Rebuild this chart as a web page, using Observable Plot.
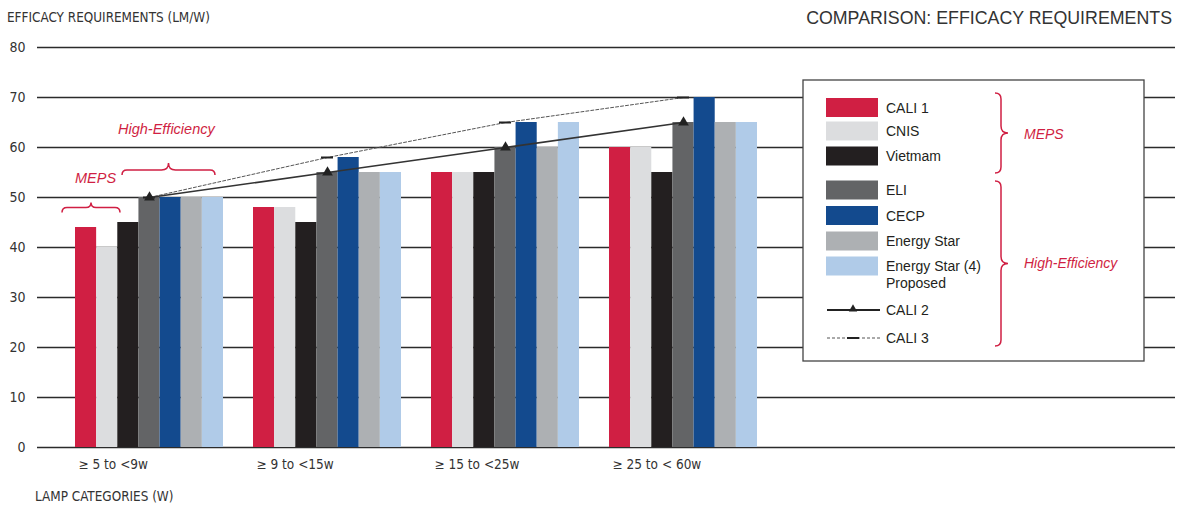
<!DOCTYPE html>
<html><head><meta charset="utf-8">
<script src="https://cdn.jsdelivr.net/npm/d3@7"></script>
<script src="https://cdn.jsdelivr.net/npm/@observablehq/plot@0.6"></script>
<style>body{margin:0;background:#fff} svg{display:block}</style>
</head><body><div id="chart"></div>
<script>
const categories = ["≥ 5 to <9w", "≥ 9 to <15w", "≥ 15 to <25w", "≥ 25 to < 60w"];
const seriesNames = ["CALI 1", "CNIS", "Vietmam", "ELI", "CECP", "Energy Star", "Energy Star (4)\nProposed"];
const cali1 = [44, 48, 55, 60];
const cnis = [40, 48, 55, 60];
const vietnam = [45, 45, 55, 55];
const eli = [50, 55, 60, 65];
const cecp = [50, 58, 65, 70];
const energyStar = [50, 55, 60, 65];
const energyStar4 = [50, 55, 65, 65];
const cali2 = [50, 55, 60, 65];
const cali3 = [50, 58, 65, 70];
const yTicks = [0, 10, 20, 30, 40, 50, 60, 70, 80];
const colors = ["#d01f43", "#dcdddf", "#231f20", "#636466", "#134a8e", "#adb0b3", "#b0cbe8"];
const series = [cali1, cnis, vietnam, eli, cecp, energyStar, energyStar4];

const RED = "#d01f43";
const padding = 0.1685;
const xRange = [45, 787];
const step = (xRange[1] - xRange[0]) / (categories.length + padding);
const bw = step * (1 - padding);
const w = bw / 7;

const FONT = "'Liberation Sans Narrow', 'DejaVu Sans Condensed', sans-serif";
const FONT2 = "'Liberation Sans', sans-serif";

const barMarks = series.map((vals, i) =>
  Plot.barY(categories.map((c, j) => ({cat: c, v: vals[j]})), {
    x: "cat", y: "v", fill: colors[i],
    insetLeft: i * w, insetRight: (6 - i) * w
  })
);
const cali2Data = categories.map((c, j) => ({cat: c, v: cali2[j]}));
const cali3Data = categories.map((c, j) => ({cat: c, v: cali3[j]}));

const plot = Plot.plot({
  width: 1179, height: 508,
  marginLeft: 37, marginRight: 4, marginTop: 47, marginBottom: 61,
  style: {fontFamily: FONT, background: "#fff", color: "#333"},
  x: {type: "band", domain: categories, range: xRange, padding: padding, label: null},
  y: {domain: [0, 80], label: null},
  marks: [
    Plot.ruleY(yTicks, {stroke: "#2b2b2b", strokeWidth: 1.3}),
    ...barMarks,
    Plot.line(cali3Data, {x: "cat", y: "v", stroke: "#555", strokeWidth: 1, strokeDasharray: "3,2"}),
    Plot.tickY(cali3Data, {x: "cat", y: "v", stroke: "#222", strokeWidth: 2, insetLeft: bw / 2 - 6, insetRight: bw / 2 - 6}),
    Plot.line(cali2Data, {x: "cat", y: "v", stroke: "#333", strokeWidth: 1.6}),
    Plot.dot(cali2Data, {x: "cat", y: "v", symbol: "triangle", r: 4, fill: "#222"}),
    Plot.axisY(yTicks, {tickSize: 0, tickPadding: 12, fontSize: 14, fill: "#333", label: null}),
    Plot.axisX({tickSize: 0, tickPadding: 12, fontSize: 13.5, fill: "#333", textAnchor: "start", dx: -bw / 2 + 3, label: null})
  ]
});
document.getElementById("chart").appendChild(plot);

const svg = d3.select(plot);
const xs = plot.scale("x");
const g = svg.append("g").attr("text-anchor", "start");

function txt(parent, x, y, s, opts = {}) {
  return parent.append("text").attr("x", x).attr("y", y)
    .attr("text-anchor", opts.anchor || "start")
    .attr("font-family", opts.font || FONT2)
    .attr("font-size", opts.size || 14)
    .attr("font-style", opts.italic ? "italic" : "normal")
    .attr("fill", opts.fill || "#231f20")
    .text(s);
}

// titles
txt(g, 1172, 24, "COMPARISON: EFFICACY REQUIREMENTS", {anchor: "end", size: 17.8, fill: "#333"});
txt(g, 7, 22, "EFFICACY REQUIREMENTS (LM/W)", {font: FONT, size: 13.4, fill: "#333"});
txt(g, 35, 501, "LAMP CATEGORIES (W)", {font: FONT, size: 13.4, fill: "#333"});

// in-chart braces
function hBrace(x1, x2, y, h, t) {
  const xm = (x1 + x2) / 2;
  return `M${x1},${y + h} Q${x1},${y} ${x1 + h},${y} L${xm - t},${y} Q${xm},${y} ${xm},${y - t} Q${xm},${y} ${xm + t},${y} L${x2 - h},${y} Q${x2},${y} ${x2},${y + h}`;
}
function vBrace(x, y1, y2, h, t) {
  const ym = (y1 + y2) / 2;
  return `M${x - h},${y1} Q${x},${y1} ${x},${y1 + h} L${x},${ym - t} Q${x},${ym} ${x + t},${ym} Q${x},${ym} ${x},${ym + t} L${x},${y2 - h} Q${x},${y2} ${x - h},${y2}`;
}
const g0 = xs.apply(categories[0]);
g.append("path").attr("d", hBrace(g0 - 13, g0 + 45, 207.5, 5, 5)).attr("fill", "none").attr("stroke", RED).attr("stroke-width", 1.5);
g.append("path").attr("d", hBrace(g0 + 47, g0 + 140, 170, 5, 7)).attr("fill", "none").attr("stroke", RED).attr("stroke-width", 1.5);
txt(g, g0, 183, "MEPS", {italic: true, fill: RED, size: 14.5});
txt(g, g0 + 43, 134, "High-Efficiency", {italic: true, fill: RED, size: 14.5});

// legend
const L = g.append("g");
L.append("rect").attr("x", 803).attr("y", 80).attr("width", 341).attr("height", 281)
  .attr("fill", "#fff").attr("stroke", "#444").attr("stroke-width", 1.3);
const swY = [107.5, 131, 156, 190, 215.5, 241, 266];
seriesNames.forEach((name, i) => {
  L.append("rect").attr("x", 826).attr("y", swY[i] - 9.5).attr("width", 52).attr("height", 19).attr("fill", colors[i]);
  name.split("\n").forEach((ln, k) => txt(L, 886, swY[i] + 5 + k * 17, ln));
});
// CALI 2
L.append("line").attr("x1", 827).attr("x2", 880).attr("y1", 310).attr("y2", 310).attr("stroke", "#222").attr("stroke-width", 1.8);
L.append("path").attr("d", d3.symbol(d3.symbolTriangle, 30)()).attr("transform", "translate(853,309)").attr("fill", "#222");
txt(L, 886, 315, "CALI 2");
// CALI 3
L.append("line").attr("x1", 827).attr("x2", 880).attr("y1", 338).attr("y2", 338).attr("stroke", "#555").attr("stroke-width", 1).attr("stroke-dasharray", "3,2");
L.append("line").attr("x1", 847).attr("x2", 859).attr("y1", 338).attr("y2", 338).attr("stroke", "#222").attr("stroke-width", 2);
txt(L, 886, 343, "CALI 3");
// legend braces
L.append("path").attr("d", vBrace(1001, 93, 173, 6, 7)).attr("fill", "none").attr("stroke", RED).attr("stroke-width", 1.5);
L.append("path").attr("d", vBrace(1001, 181, 346, 6, 7)).attr("fill", "none").attr("stroke", RED).attr("stroke-width", 1.5);
txt(L, 1024, 139, "MEPS", {italic: true, fill: RED});
txt(L, 1024, 268, "High-Efficiency", {italic: true, fill: RED});
</script>
</body></html>
